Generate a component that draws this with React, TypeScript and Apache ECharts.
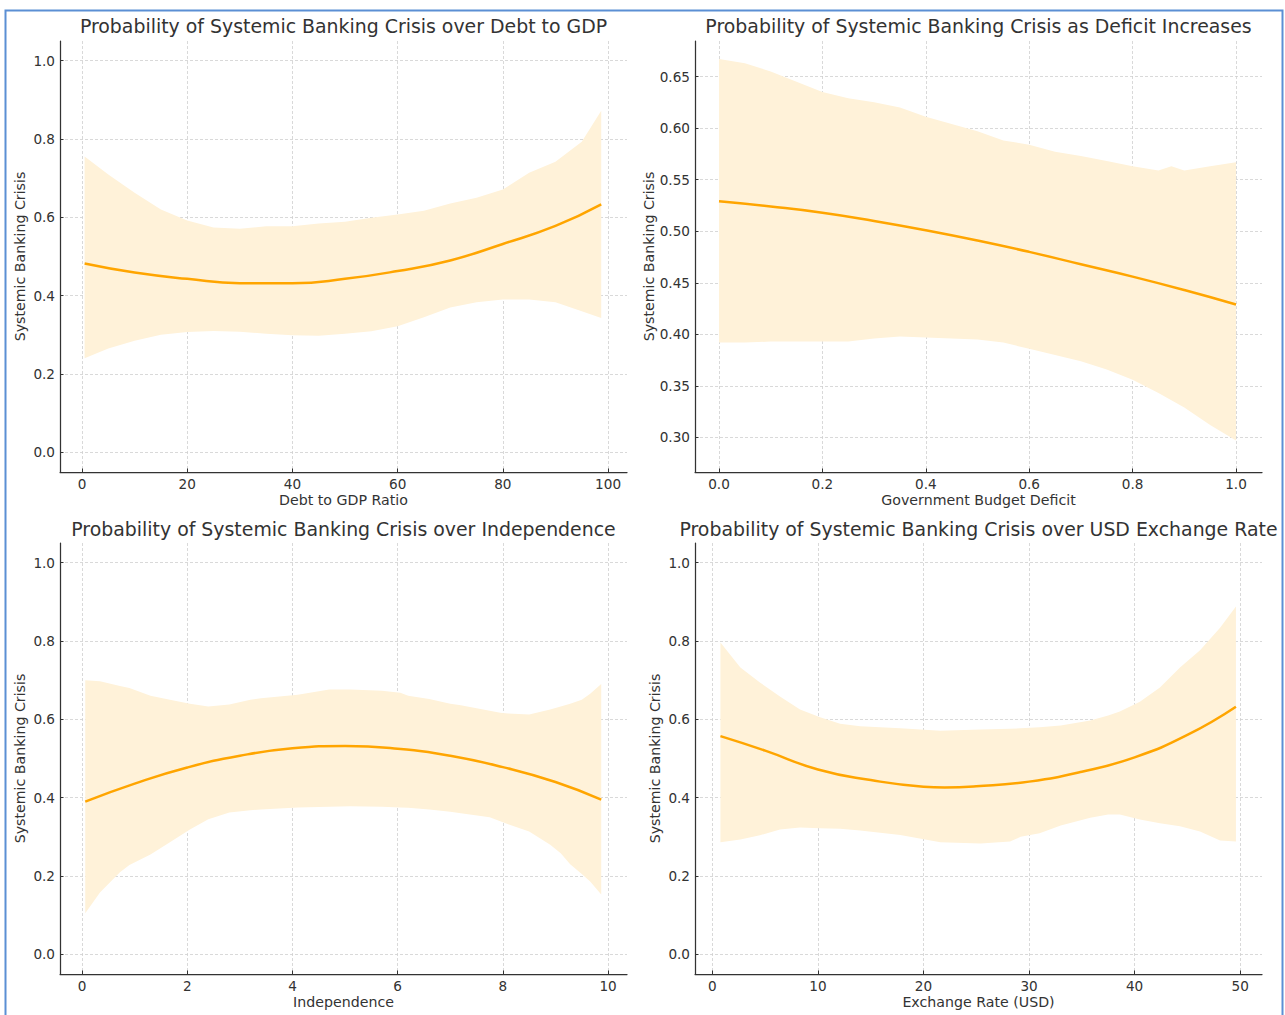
import React, { useEffect, useRef } from "react";
import * as echarts from "echarts";

// ---------- Panel 1: Debt to GDP ----------
const debtX = [0.5, 5, 10, 15, 20, 25, 30, 35, 40, 45, 50, 55, 60, 65, 70, 75, 80, 85, 90, 95, 98.7];
const debtUpper = [0.755, 0.709, 0.663, 0.62, 0.592, 0.574, 0.571, 0.577, 0.577, 0.584, 0.589, 0.599, 0.607, 0.617, 0.635, 0.65, 0.671, 0.714, 0.742, 0.793, 0.872];
const debtLower = [0.24, 0.265, 0.285, 0.3, 0.307, 0.31, 0.308, 0.303, 0.299, 0.298, 0.303, 0.309, 0.322, 0.345, 0.37, 0.383, 0.39, 0.39, 0.383, 0.36, 0.343];
const debtLineX = [0.5, 10, 20, 30, 40, 50, 60, 70, 80, 90, 98.7];
const debtLine = [0.482, 0.459, 0.443, 0.432, 0.432, 0.443, 0.463, 0.49, 0.532, 0.578, 0.633];

// ---------- Panel 2: Deficit ----------
const defX = [0, 0.05, 0.1, 0.15, 0.2, 0.25, 0.3, 0.35, 0.4, 0.45, 0.5, 0.55, 0.6, 0.65, 0.7, 0.75, 0.8, 0.85, 0.875, 0.9, 0.95, 1.0];
const defUpper = [0.667, 0.663, 0.655, 0.645, 0.635, 0.629, 0.625, 0.62, 0.611, 0.604, 0.597, 0.588, 0.584, 0.577, 0.573, 0.568, 0.563, 0.559, 0.563, 0.559, 0.563, 0.567];
const defLower = [0.392, 0.392, 0.393, 0.393, 0.393, 0.393, 0.396, 0.398, 0.397, 0.396, 0.395, 0.392, 0.386, 0.38, 0.374, 0.366, 0.356, 0.343, 0.336, 0.329, 0.312, 0.297];
const defLineX = [0, 0.1, 0.2, 0.3, 0.4, 0.5, 0.6, 0.7, 0.8, 0.9, 1.0];
const defLine = [0.529, 0.524, 0.518, 0.51, 0.501, 0.491, 0.48, 0.468, 0.456, 0.443, 0.429];

// ---------- Panel 3: Independence ----------
const indX = [0.06, 0.34, 0.72, 0.9, 1.3, 1.67, 2.05, 2.4, 2.8, 3.2, 3.4, 4.1, 4.7, 5.1, 5.7, 6.05, 6.2, 6.6, 7.0, 7.2, 7.75, 7.95, 8.1, 8.5, 8.9, 9.1, 9.28, 9.5, 9.66, 9.87];
const indUpper = [0.7, 0.697, 0.685, 0.68, 0.66, 0.65, 0.64, 0.633, 0.638, 0.65, 0.654, 0.663, 0.676, 0.676, 0.673, 0.668, 0.66, 0.652, 0.64, 0.636, 0.622, 0.617, 0.615, 0.612, 0.625, 0.633, 0.64, 0.65, 0.665, 0.69];
const indLower = [0.105, 0.158, 0.21, 0.228, 0.255, 0.286, 0.319, 0.345, 0.362, 0.368, 0.37, 0.375, 0.377, 0.378, 0.377, 0.375, 0.374, 0.37, 0.364, 0.36, 0.35, 0.34, 0.332, 0.314, 0.28, 0.258, 0.23, 0.205, 0.186, 0.153];
const indLineX = [0.06, 1, 2, 3, 4, 5, 6, 7, 8, 9, 9.87];
const indLine = [0.39, 0.436, 0.477, 0.507, 0.526, 0.532, 0.525, 0.507, 0.478, 0.44, 0.395];

// ---------- Panel 4: Exchange rate ----------
const fxX = [0.76, 2.65, 4.5, 6.4, 8.3, 10.2, 12.1, 14, 17.8, 21.6, 25.4, 28.2, 29.2, 31, 33, 35.8, 37.5, 38.6, 40.5, 42.4, 44.3, 46.2, 48.1, 49.6];
const fxUpper = [0.796, 0.732, 0.694, 0.658, 0.625, 0.605, 0.589, 0.582, 0.577, 0.571, 0.574, 0.576, 0.577, 0.58, 0.584, 0.597, 0.61, 0.62, 0.645, 0.681, 0.732, 0.776, 0.834, 0.888];
const fxLower = [0.286, 0.293, 0.304, 0.319, 0.324, 0.322, 0.321, 0.316, 0.305, 0.286, 0.283, 0.288, 0.3, 0.309, 0.329, 0.349, 0.357, 0.357, 0.344, 0.335, 0.327, 0.314, 0.291, 0.288];
const fxLineX = [0.76, 5, 10, 15, 20, 22, 25, 30, 35, 40, 45, 49.6];
const fxLine = [0.557, 0.52, 0.472, 0.445, 0.428, 0.426, 0.429, 0.441, 0.466, 0.503, 0.56, 0.632];

// ---------- Ticks / labels ----------
const debtTicks = [0, 20, 40, 60, 80, 100];
const defTicks = [0, 0.2, 0.4, 0.6, 0.8, 1.0];
const indTicks = [0, 2, 4, 6, 8, 10];
const fxTicks = [0, 10, 20, 30, 40, 50];
const probTicks = [0, 0.2, 0.4, 0.6, 0.8, 1.0];
const defYTicks = [0.3, 0.35, 0.4, 0.45, 0.5, 0.55, 0.6, 0.65];

const titles = [
  "Probability of Systemic Banking Crisis over Debt to GDP",
  "Probability of Systemic Banking Crisis as Deficit Increases",
  "Probability of Systemic Banking Crisis over Independence",
  "Probability of Systemic Banking Crisis over USD Exchange Rate",
];
const xNames = ["Debt to GDP Ratio", "Government Budget Deficit", "Independence", "Exchange Rate (USD)"];
const yName = "Systemic Banking Crisis";

const FONT = "DejaVu Sans";
const TXT = "#333333";
const LINE = "#FFA500";
const BAND = "#FFF2D9";

export default function App() {
  const ref = useRef<HTMLDivElement>(null);
  useEffect(() => {
    if (!ref.current) return;
    const chart = echarts.init(ref.current, null, { renderer: "svg" });

    const grids = [
      { left: 60, top: 41, width: 567, height: 431 },
      { left: 695, top: 41, width: 567, height: 431 },
      { left: 60, top: 543, width: 567, height: 431 },
      { left: 695, top: 543, width: 567, height: 431 },
    ];
    const xr = [
      [-4.18, 103.6],
      [-0.0464, 1.0503],
      [-0.42, 10.36],
      [-1.65, 52.07],
    ];
    const yr = [
      [-0.05, 1.05],
      [0.2665, 0.6845],
      [-0.05, 1.05],
      [-0.05, 1.05],
    ];
    const xt = [debtTicks, defTicks, indTicks, fxTicks];
    const yt = [probTicks, defYTicks, probTicks, probTicks];
    const xFmt = [
      (v: number) => String(Math.round(v)),
      (v: number) => v.toFixed(1),
      (v: number) => String(Math.round(v)),
      (v: number) => String(Math.round(v)),
    ];
    const yFmt = [
      (v: number) => v.toFixed(1),
      (v: number) => v.toFixed(2),
      (v: number) => v.toFixed(1),
      (v: number) => v.toFixed(1),
    ];

    const axisLine = { show: true, onZero: false, lineStyle: { color: "#333333", width: 1.25 } };
    const splitLine = { show: true, lineStyle: { color: "#cfcfcf", width: 0.8, type: [3, 2] } };

    const xAxis = grids.map((_, i) => ({
      type: "value",
      gridIndex: i,
      min: xr[i][0],
      max: xr[i][1],
      name: xNames[i],
      nameLocation: "middle",
      nameGap: 21,
      nameTextStyle: { fontFamily: FONT, fontSize: 14.2, color: TXT },
      axisLine,
      axisTick: { show: true, inside: true, length: 3.5, customValues: xt[i], lineStyle: { color: "#333333", width: 1 } },
      axisLabel: { customValues: xt[i], formatter: xFmt[i], fontFamily: FONT, fontSize: 13.6, color: TXT, margin: 5 },
      splitLine,
    }));
    const yAxis = grids.map((_, i) => ({
      type: "value",
      gridIndex: i,
      min: yr[i][0],
      max: yr[i][1],
      name: yName,
      nameLocation: "middle",
      nameGap: 33,
      nameTextStyle: { fontFamily: FONT, fontSize: 14.2, color: TXT },
      axisLine,
      axisTick: { show: true, inside: true, length: 3.5, customValues: yt[i], lineStyle: { color: "#333333", width: 1 } },
      axisLabel: { customValues: yt[i], formatter: yFmt[i], fontFamily: FONT, fontSize: 13.6, color: TXT, margin: 5 },
      splitLine,
    }));

    const bands = [
      [debtX, debtLower, debtUpper],
      [defX, defLower, defUpper],
      [indX, indLower, indUpper],
      [fxX, fxLower, fxUpper],
    ];
    const lines = [
      [debtLineX, debtLine],
      [defLineX, defLine],
      [indLineX, indLine],
      [fxLineX, fxLine],
    ];

    const series: any[] = [];
    bands.forEach((b, i) => {
      const xs = b[0], lo = b[1], hi = b[2];
      series.push({
        type: "custom",
        xAxisIndex: i,
        yAxisIndex: i,
        silent: true,
        clip: true,
        z: 1,
        data: xs.map((x, k) => [x, lo[k], hi[k]]),
        encode: { x: 0, y: [1, 2] },
        renderItem: (params: any, api: any) => {
          if (params.dataIndex !== 0) return null;
          const pts: number[][] = [];
          for (let k = 0; k < xs.length; k++) pts.push(api.coord([xs[k], hi[k]]));
          for (let k = xs.length - 1; k >= 0; k--) pts.push(api.coord([xs[k], lo[k]]));
          return { type: "polygon", shape: { points: pts }, style: { fill: BAND } };
        },
      });
    });
    lines.forEach((l, i) => {
      series.push({
        type: "line",
        xAxisIndex: i,
        yAxisIndex: i,
        data: l[0].map((x, k) => [x, l[1][k]]),
        smooth: true,
        showSymbol: false,
        symbol: "none",
        z: 3,
        lineStyle: { color: LINE, width: 2.5 },
      });
    });

    const centers = [343.5, 978.5, 343.5, 978.5];
    const titleTops = [16, 16, 519, 519];

    chart.setOption({
      animation: false,
      backgroundColor: "#ffffff",
      title: titles.map((t, i) => ({
        text: t,
        left: centers[i],
        top: titleTops[i],
        textAlign: "center",
        padding: 0,
        textStyle: { fontFamily: FONT, fontSize: 18.9, fontWeight: "normal", color: TXT },
      })),
      grid: grids,
      xAxis,
      yAxis,
      series,
      graphic: [
        {
          type: "rect",
          shape: { x: 5.5, y: 10.5, width: 1277, height: 1030 },
          style: { fill: "none", stroke: "#5b8fd4", lineWidth: 2 },
          silent: true,
          z: 100,
        },
      ],
    });
    return () => chart.dispose();
  }, []);
  return <div ref={ref} style={{ position: "fixed", left: 0, top: 0, width: 1285, height: 1015 }} />;
}
